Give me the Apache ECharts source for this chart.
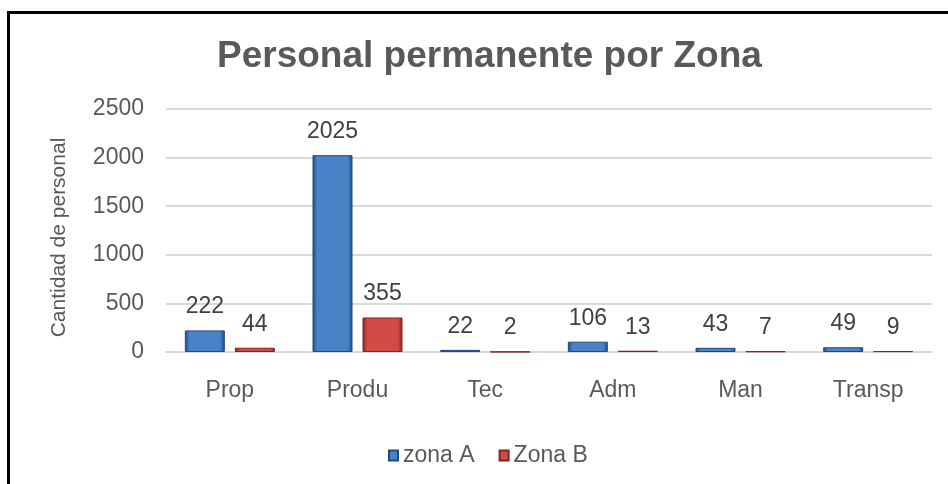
<!DOCTYPE html>
<html>
<head>
<meta charset="utf-8">
<script src="https://cdn.jsdelivr.net/npm/echarts@6/dist/echarts.min.js"></script>
<style>
  html, body { margin: 0; padding: 0; background: #fff; }
  #chart { width: 948px; height: 484px; }
  .frame {
    position: absolute; left: 7px; top: 11px; right: 0; bottom: 0;
    border-top: 3px solid #000; border-left: 3px solid #000;
    pointer-events: none;
  }
</style>
</head>
<body>
<div id="chart"></div>
<div class="frame"></div>
<script>
const categories = ['Prop', 'Produ', 'Tec', 'Adm', 'Man', 'Transp']
const zonaA = [222, 2025, 22, 106, 43, 49]
const zonaB = [44, 355, 2, 13, 7, 9]
const yTicks = [0, 500, 1000, 1500, 2000, 2500]

const font = '"Liberation Sans", Arial, sans-serif'

function barColor(dark, light) {
  return new echarts.graphic.LinearGradient(0, 0, 1, 0, [
    { offset: 0, color: dark },
    { offset: 0.12, color: light },
    { offset: 0.88, color: light },
    { offset: 1, color: dark }
  ])
}

const myChart = echarts.init(document.getElementById('chart'))
const option = {
  animation: false,
  textStyle: { fontFamily: font },
  title: {
    text: 'Personal permanente por Zona',
    left: 212,
    top: 33,
    textStyle: { fontSize: 37, fontWeight: 'bold', color: '#595959', fontFamily: font }
  },
  legend: {
    data: ['zona A', 'Zona B'],
    bottom: 12,
    left: 383,
    itemWidth: 9,
    itemHeight: 10,
    itemGap: 24,
    icon: 'rect',
    textStyle: { fontSize: 23, color: '#595959' }
  },
  grid: {
    left: 166,
    right: 16,
    top: 109,
    bottom: 132
  },
  xAxis: {
    type: 'category',
    data: categories,
    axisTick: { show: false },
    axisLine: { lineStyle: { color: '#d9d9d9', width: 2 } },
    axisLabel: { fontSize: 23, color: '#595959', margin: 27 }
  },
  yAxis: {
    type: 'value',
    min: 0,
    max: 2500,
    interval: 500,
    name: 'Cantidad de personal',
    nameLocation: 'middle',
    nameGap: 96,
    nameTextStyle: { fontSize: 21, color: '#595959', padding: [0, 0, 0, -14] },
    axisLine: { show: false },
    axisTick: { show: false },
    axisLabel: {
      fontSize: 23, color: '#595959', margin: 22,
      formatter: function (v) { return yTicks.indexOf(v) >= 0 ? String(v) : '' }
    },
    splitLine: { lineStyle: { color: '#d9d9d9', width: 2 } }
  },
  series: [
    {
      name: 'zona A',
      type: 'bar',
      data: zonaA,
      barWidth: 40,
      barGap: '25%',
      itemStyle: {
        color: barColor('#214c82', '#4a82c8'),
        borderColor: '#21497e',
        borderWidth: 1
      },
      label: { show: true, position: 'top', distance: 12, fontSize: 23, color: '#404040' }
    },
    {
      name: 'Zona B',
      type: 'bar',
      data: zonaB,
      barWidth: 40,
      itemStyle: {
        color: barColor('#852321', '#d24a46'),
        borderColor: '#822522',
        borderWidth: 1
      },
      label: { show: true, position: 'top', distance: 12, fontSize: 23, color: '#404040' }
    }
  ]
}
myChart.setOption(option)
window.addEventListener('resize', function () { myChart.resize() })
</script>
</body>
</html>
